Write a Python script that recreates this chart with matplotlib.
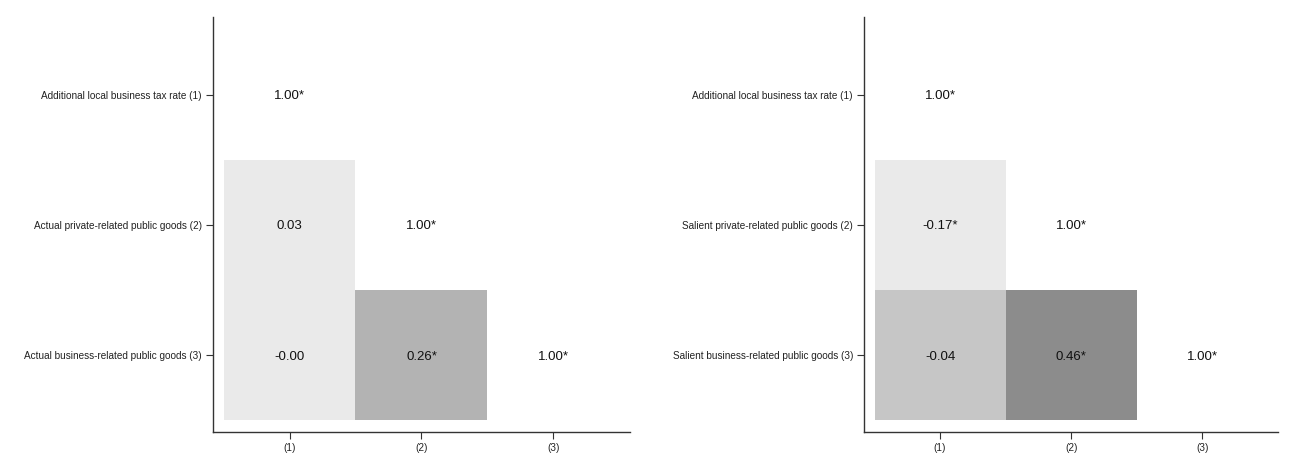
import numpy as np
import matplotlib.pyplot as plt
from matplotlib.patches import Rectangle

plt.rcParams['font.family'] = ['Liberation Sans', 'DejaVu Sans']

# lower triangle correlations, row by row (nan = empty)
labels_left = ['Additional local business tax rate (1)',
               'Actual private-related public goods (2)',
               'Actual business-related public goods (3)']
labels_right = ['Additional local business tax rate (1)',
                'Salient private-related public goods (2)',
                'Salient business-related public goods (3)']
col_labels = ['(1)', '(2)', '(3)']

corr_left = [[1.00, np.nan, np.nan],
             [0.03, 1.00, np.nan],
             [-0.00, 0.26, 1.00]]
star_left = [[1, 0, 0],
             [0, 1, 0],
             [0, 1, 1]]
corr_right = [[1.00, np.nan, np.nan],
              [-0.17, 1.00, np.nan],
              [-0.04, 0.46, 1.00]]
star_right = [[1, 0, 0],
              [1, 1, 0],
              [0, 1, 1]]

# grey shade of each off-diagonal cell as drawn in the original
shade_left = [[None, None, None],
              ['#eaeaea', None, None],
              ['#eaeaea', '#b3b3b3', None]]
shade_right = [[None, None, None],
               ['#eaeaea', None, None],
               ['#c6c6c6', '#8c8c8c', None]]


def draw_panel(ax, corr, star, shade, rows):
    n = len(rows)
    for i in range(n):
        for j in range(n):
            v = corr[i][j]
            if np.isnan(v):
                continue
            if shade[i][j] is not None:
                ax.add_patch(Rectangle((j + 0.5, i + 0.5), 1, 1,
                                       facecolor=shade[i][j], edgecolor='none'))
            txt = f'{v:.2f}'
            if v == 0 and str(v).startswith('-'):
                txt = '-0.00'
            if star[i][j]:
                txt += '*'
            ax.text(j + 1, i + 1.01, txt, ha='center', va='center',
                    fontsize=9.5, color='#111111')
    ax.set_xlim(0.42, 3.58)
    ax.set_ylim(3.59, 0.4)
    ax.set_xticks(range(1, n + 1))
    ax.set_xticklabels(col_labels, fontsize=7.2)
    ax.set_yticks(range(1, n + 1))
    ax.set_yticklabels(rows, fontsize=7.2)
    for s in ['top', 'right']:
        ax.spines[s].set_visible(False)
    for s in ['left', 'bottom']:
        ax.spines[s].set_color('#333333')
        ax.spines[s].set_linewidth(1.0)
    ax.tick_params(direction='out', length=5, width=0.8, color='#333333',
                   labelcolor='#222222', pad=3)


fig = plt.figure(figsize=(12.97, 4.71), dpi=100)
ax1 = fig.add_axes([0.1642, 0.0828, 0.3215, 0.8811])
ax2 = fig.add_axes([0.6662, 0.0828, 0.3192, 0.8811])
draw_panel(ax1, corr_left, star_left, shade_left, labels_left)
draw_panel(ax2, corr_right, star_right, shade_right, labels_right)

fig.savefig('out.png', dpi=100)
